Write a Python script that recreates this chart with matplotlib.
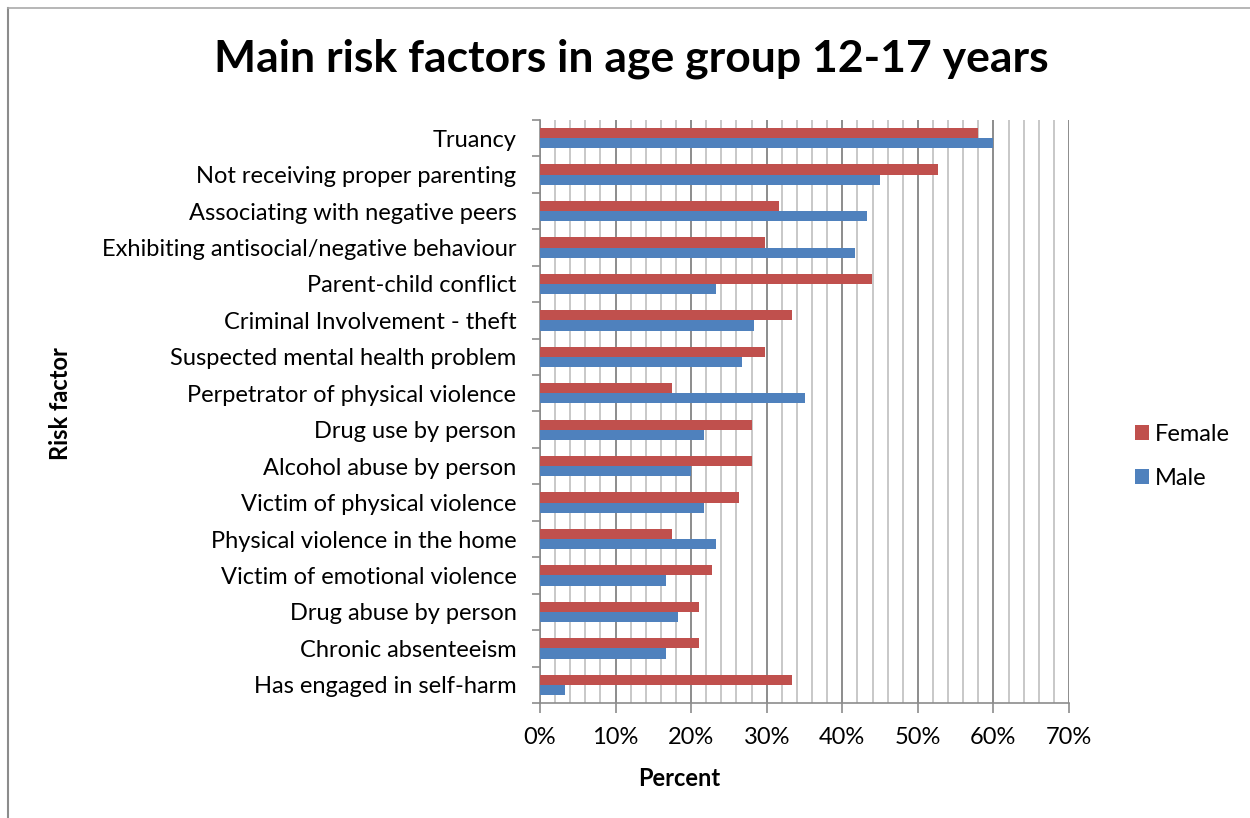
import matplotlib
matplotlib.use("Agg")
import matplotlib.pyplot as plt
from matplotlib.lines import Line2D
from matplotlib.ticker import MultipleLocator, PercentFormatter
import numpy as np

plt.rcParams['font.family'] = ['Lato', 'DejaVu Sans']

# data (top to bottom)
factors = [
    "Truancy",
    "Not receiving proper parenting",
    "Associating with negative peers",
    "Exhibiting antisocial/negative behaviour",
    "Parent-child conflict",
    "Criminal Involvement - theft",
    "Suspected mental health problem",
    "Perpetrator of physical violence",
    "Drug use by person",
    "Alcohol abuse by person",
    "Victim of physical violence",
    "Physical violence in the home",
    "Victim of emotional violence",
    "Drug abuse by person",
    "Chronic absenteeism",
    "Has engaged in self-harm",
]
female = [57.9, 52.6, 31.6, 29.8, 43.9, 33.3, 29.8, 17.5, 28.1, 28.1, 26.3, 17.5, 22.8, 21.1, 21.1, 33.3]
male = [60.0, 45.0, 43.3, 41.7, 23.3, 28.3, 26.7, 35.0, 21.7, 20.0, 21.7, 23.3, 16.7, 18.3, 16.7, 3.3]

red = "#C0504D"
blue = "#4F81BD"

fig = plt.figure(figsize=(12.5, 8.18), dpi=100)
ax = fig.add_axes([0.432, 0.1406, 0.4232, 0.7127])

n = len(factors)
y = np.arange(n)[::-1].astype(float)
h = 0.28
ax.barh(y + h / 2, female, height=h, color=red, label="Female", zorder=3)
ax.barh(y - h / 2, male, height=h, color=blue, label="Male", zorder=3)

ax.set_xlim(0, 70)
ax.set_ylim(-0.5, n - 0.5)
ax.xaxis.set_major_locator(MultipleLocator(10))
ax.xaxis.set_minor_locator(MultipleLocator(2))
ax.xaxis.set_major_formatter(PercentFormatter(decimals=0))
ax.grid(axis="x", which="minor", color="#bfbfbf", linewidth=1.2, zorder=0)
ax.grid(axis="x", which="major", color="#8c8c8c", linewidth=1.4, zorder=0)

ax.set_yticks(y)
ax.set_yticklabels(factors)
ax.set_yticks(np.arange(n + 1) - 0.5, minor=True)
ax.tick_params(axis="y", which="major", length=0, pad=17, labelsize=17)
ax.tick_params(axis="y", which="minor", length=6, color="#8c8c8c", width=1.2)
ax.tick_params(axis="x", which="major", length=7, color="#8c8c8c", width=1.2, labelsize=17, pad=10)
ax.tick_params(axis="x", which="minor", length=0)

for side in ["top", "right"]:
    ax.spines[side].set_visible(False)
for side in ["left", "bottom"]:
    ax.spines[side].set_color("#8c8c8c")
    ax.spines[side].set_linewidth(1.2)

fig.text(0.543, 0.0477, "Percent", fontsize=17, fontweight="bold", ha="center", va="center")
fig.text(0.048, 0.507, "Risk factor", rotation=90, fontsize=17, fontweight="bold",
         ha="center", va="center")

fig.text(0.505, 0.928, "Main risk factors in age group 12-17 years",
         fontsize=32, fontweight="bold", ha="center", va="center")

fig.legend(loc="center left", bbox_to_anchor=(0.891, 0.442), frameon=False,
           fontsize=17, handlelength=0.6, handleheight=0.6, labelspacing=1.0,
           handletextpad=0.25)

# outer frame (left and top only)
fig.add_artist(Line2D([0.0065, 0.0065], [0, 0.99], transform=fig.transFigure, color="#8c8c8c", lw=1.5))
fig.add_artist(Line2D([0.0065, 1], [0.99, 0.99], transform=fig.transFigure, color="#aaaaaa", lw=1.2))

fig.savefig("out.png", dpi=100)
